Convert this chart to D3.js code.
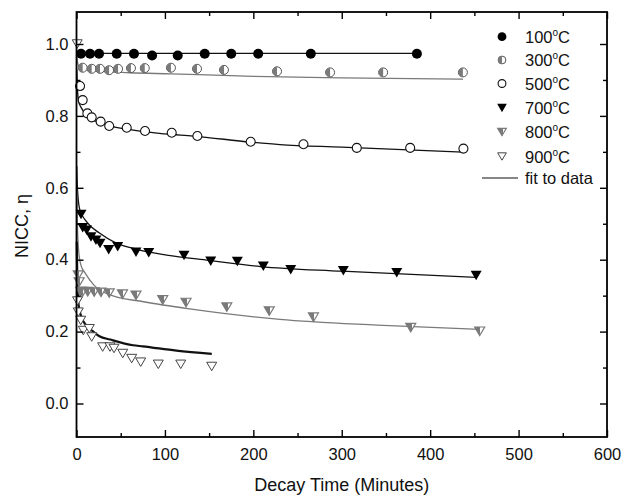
<!DOCTYPE html>
<html><head><meta charset="utf-8">
<script src="https://cdn.jsdelivr.net/npm/d3@7"></script>
<style>
body{margin:0;background:#fff}
svg{display:block}
text{font-family:"Liberation Sans",Arial,sans-serif;fill:#111}
</style>
</head><body>
<svg id="c" width="642" height="496"></svg>
<script>
// ---- data ----
const t100 = [5.1, 15.3, 25.5, 45.5, 65, 85.5, 114.5, 145, 175, 205.5, 265, 385];
const v100 = [0.973, 0.973, 0.973, 0.973, 0.973, 0.968, 0.968, 0.973, 0.973, 0.973, 0.973, 0.973];

const t300 = [7, 17.2, 26.6, 36.8, 47, 61.6, 77.2, 106.8, 136.3, 166.8, 226.8, 286.8, 346.8, 437];
const v300 = [0.934, 0.931, 0.931, 0.927, 0.931, 0.933, 0.933, 0.934, 0.931, 0.928, 0.924, 0.921, 0.921, 0.921];

const t500 = [4, 7, 12.3, 17.2, 27.3, 37, 56.8, 77.5, 107.7, 136.7, 197, 256.7, 317, 377.4, 437.6];
const v500 = [0.883, 0.844, 0.807, 0.796, 0.784, 0.772, 0.767, 0.758, 0.753, 0.744, 0.728, 0.721, 0.711, 0.711, 0.709];

const t700 = [5.1, 7, 11.5, 16.4, 22, 26.6, 36.4, 46.6, 67.3, 81.7, 121.6, 151.8, 181.9, 211.3, 242.3, 301.8, 362.2, 452];
const v700 = [0.526, 0.489, 0.482, 0.463, 0.454, 0.445, 0.428, 0.436, 0.421, 0.419, 0.412, 0.396, 0.395, 0.382, 0.372, 0.369, 0.364, 0.356];

const t800 = [2, 3, 4.8, 7, 12.7, 20, 27.7, 37, 52, 67.3, 97.5, 123.9, 170, 218, 268, 378, 456];
const v800 = [0.357, 0.338, 0.311, 0.311, 0.311, 0.310, 0.309, 0.307, 0.304, 0.301, 0.288, 0.281, 0.268, 0.257, 0.240, 0.211, 0.201];

const t900 = [0.8, 1.2, 2, 4.8, 7.7, 14.5, 17.2, 29.6, 37.9, 42.4, 52.3, 62.4, 72.6, 92.5, 117.9, 152.9];
const v900 = [1.0, 0.285, 0.254, 0.231, 0.203, 0.208, 0.185, 0.157, 0.157, 0.153, 0.139, 0.125, 0.115, 0.109, 0.109, 0.103];

// fitted curves
const fitT100 = [0, 100, 250, 385];
const fitV100 = [0.974, 0.974, 0.974, 0.974];
const fitT300 = [0.3, 2, 5, 20, 60, 107, 200, 300, 437];
const fitV300 = [0.965, 0.94, 0.93, 0.925, 0.92, 0.917, 0.91, 0.906, 0.902];
const fitT500 = [0.3, 1, 2.3, 5.3, 15, 30, 57, 100, 132, 197, 230, 300, 437];
const fitV500 = [0.93, 0.88, 0.842, 0.823, 0.795, 0.778, 0.763, 0.75, 0.744, 0.727, 0.72, 0.713, 0.699];
const fitT700 = [0.3, 1, 3.7, 11.3, 26, 45, 68, 102, 150, 208, 300, 452];
const fitV700 = [0.66, 0.6, 0.539, 0.506, 0.474, 0.446, 0.429, 0.413, 0.398, 0.381, 0.368, 0.351];
const fitT800 = [0.3, 1, 2.6, 5, 10, 19.5, 38, 76, 132, 230, 340, 456];
const fitV800 = [0.6, 0.5, 0.42, 0.385, 0.362, 0.33, 0.302, 0.283, 0.262, 0.234, 0.218, 0.206];
const fitT900 = [0.3, 1, 2.6, 5, 11, 19, 26, 38, 64, 75, 113, 153];
const fitV900 = [0.45, 0.33, 0.27, 0.245, 0.217, 0.2, 0.187, 0.178, 0.162, 0.159, 0.147, 0.138];

const legendTemps = ["100", "300", "500", "700", "800", "900"];
const fitLabel = "fit to data";
const xTicks = [0, 100, 200, 300, 400, 500, 600];
const xMinor = [50, 150, 250, 350, 450, 550];
const yTicks = [0, 0.2, 0.4, 0.6, 0.8, 1.0];
const yMinor = [0.1, 0.3, 0.5, 0.7, 0.9];
const xTitle = "Decay Time (Minutes)";
const yTitle = "NICC, η";

// ---- drawing ----
const svg = d3.select("#c");
const L = 76.5, R = 607, T = 12, B = 437;
const x = d3.scaleLinear().domain([0, 600]).range([L, R]);
const y = d3.scaleLinear().domain([0, 1]).range([403.5, 44]);
const GREY = "#7a7a7a";

const defs = svg.append("defs");
const grad = defs.append("linearGradient").attr("id", "half800")
  .attr("x1", "0").attr("x2", "1").attr("y1", "0").attr("y2", "0");
grad.append("stop").attr("offset", "0.58").attr("stop-color", GREY);
grad.append("stop").attr("offset", "0.58").attr("stop-color", "#fff");

// fits
const line = d3.line().x(d => x(d[0])).y(d => y(d[1])).curve(d3.curveMonotoneX);
const fits = [
  [fitT100, fitV100, "#111", 1.3],
  [fitT300, fitV300, GREY, 1.3],
  [fitT500, fitV500, "#111", 1.3],
  [fitT700, fitV700, "#111", 1.3],
  [fitT800, fitV800, GREY, 1.3],
  [fitT900, fitV900, "#111", 2.2]
];
fits.forEach(([ts, vs, col, w]) => {
  svg.append("path").datum(d3.zip(ts, vs)).attr("d", line)
    .attr("fill", "none").attr("stroke", col).attr("stroke-width", w);
});

// marker drawers
function triPath(w, h) {
  return `M${-w/2},${-h/2}L${w/2},${-h/2}L0,${h/2}Z`;
}
function drawMarker(g, kind, s) {
  const r = 5 * s, w = 11 * s, h = 9.5 * s;
  if (kind === "100") {
    g.append("circle").attr("r", r).attr("fill", "#000");
  } else if (kind === "300") {
    g.append("circle").attr("r", r - 0.5).attr("fill", "#fff").attr("stroke", "#555").attr("stroke-width", 1);
    g.append("path").attr("d", `M0,${-(r - 0.5)}A${r - 0.5},${r - 0.5} 0 0 0 0,${r - 0.5}Z`).attr("fill", GREY);
  } else if (kind === "500") {
    g.append("circle").attr("r", r - 0.5).attr("fill", "#fff").attr("stroke", "#111").attr("stroke-width", 1.1);
  } else if (kind === "700") {
    g.append("path").attr("d", triPath(w, h)).attr("fill", "#000");
  } else if (kind === "800") {
    g.append("path").attr("d", triPath(w - 1, h - 1)).attr("fill", "url(#half800)").attr("stroke", GREY).attr("stroke-width", 1.2);
  } else {
    g.append("path").attr("d", triPath(w - 1, h - 1)).attr("fill", "#fff").attr("stroke", "#444").attr("stroke-width", 1);
  }
}
const series = [
  ["100", t100, v100], ["300", t300, v300], ["500", t500, v500],
  ["700", t700, v700], ["800", t800, v800], ["900", t900, v900]
];
series.forEach(([k, ts, vs]) => {
  d3.zip(ts, vs).forEach(d => {
    const g = svg.append("g").attr("transform", `translate(${x(d[0])},${y(d[1])})`);
    drawMarker(g, k, 1);
  });
});

// axes
const fmt = d3.format(".1f");
function styleAxis(g) {
  g.select(".domain").remove();
  g.selectAll(".tick line").attr("stroke", "#000").attr("stroke-width", 1.4);
  g.selectAll("text").style("font-size", "16.5px").attr("fill", "#111");
}
svg.append("g").attr("transform", `translate(0,${B})`)
  .call(d3.axisBottom(x).tickValues(xTicks).tickSize(-7).tickPadding(11)).call(styleAxis);
svg.append("g").attr("transform", `translate(0,${B})`)
  .call(d3.axisBottom(x).tickValues(xMinor).tickSize(-4).tickFormat("")).call(styleAxis);
svg.append("g").attr("transform", `translate(0,${T})`)
  .call(d3.axisTop(x).tickValues(xTicks).tickSize(-7).tickFormat("")).call(styleAxis);
svg.append("g").attr("transform", `translate(0,${T})`)
  .call(d3.axisTop(x).tickValues(xMinor).tickSize(-4).tickFormat("")).call(styleAxis);
svg.append("g").attr("transform", `translate(${L},0)`)
  .call(d3.axisLeft(y).tickValues(yTicks).tickFormat(fmt).tickSize(-7).tickPadding(8)).call(styleAxis);
svg.append("g").attr("transform", `translate(${L},0)`)
  .call(d3.axisLeft(y).tickValues(yMinor).tickSize(-4).tickFormat("")).call(styleAxis);
svg.append("g").attr("transform", `translate(${R},0)`)
  .call(d3.axisRight(y).tickValues(yTicks).tickSize(-7).tickFormat("")).call(styleAxis);
svg.append("g").attr("transform", `translate(${R},0)`)
  .call(d3.axisRight(y).tickValues(yMinor).tickSize(-4).tickFormat("")).call(styleAxis);

// frame
svg.append("rect").attr("x", L).attr("y", T).attr("width", R - L).attr("height", B - T)
  .attr("fill", "none").attr("stroke", "#000").attr("stroke-width", 1.8);

// titles
svg.append("text").attr("x", (L + R) / 2).attr("y", 491).attr("text-anchor", "middle")
  .style("font-size", "18px").text(xTitle);
svg.append("text").attr("transform", "translate(28,226) rotate(-90)").attr("text-anchor", "middle")
  .style("font-size", "18px").text(yTitle);

// legend
const legY = [36.7, 60, 83.5, 108, 132, 156.5];
legendTemps.forEach((k, i) => {
  const g = svg.append("g").attr("transform", `translate(502,${legY[i]})`);
  drawMarker(g, k, 0.88);
  const t = svg.append("text").attr("x", 525).attr("y", legY[i] + 6).style("font-size", "16.5px");
  t.append("tspan").text(k);
  t.append("tspan").attr("dy", -7).style("font-size", "10px").text("o");
  t.append("tspan").attr("dy", 7).text("C");
});
svg.append("line").attr("x1", 482).attr("x2", 518).attr("y1", 178).attr("y2", 178)
  .attr("stroke", "#111").attr("stroke-width", 1.2);
svg.append("text").attr("x", 525).attr("y", 184).style("font-size", "16.5px").text(fitLabel);
</script>
</body></html>
